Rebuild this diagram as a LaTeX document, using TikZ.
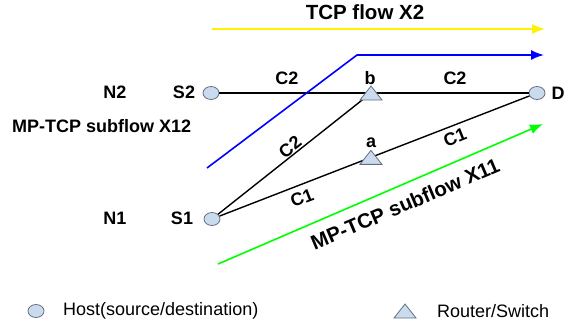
\documentclass[tikz,border=0pt]{standalone}
\usepackage{fontspec}
\setmainfont{Liberation Sans}
\usetikzlibrary{arrows.meta,calc,shapes.geometric}
\definecolor{hostfill}{RGB}{202,219,238}
\definecolor{hostline}{RGB}{100,112,128}
\begin{document}
\begin{tikzpicture}[x=1pt,y=-1pt,
  host/.style={ellipse, draw=hostline, fill=hostfill, line width=0.8pt, minimum width=16pt, minimum height=13pt, inner sep=0pt},
  lbl/.style={font=\fontsize{18}{21}\selectfont\bfseries, inner sep=0pt},
  leg/.style={font=\fontsize{18}{21}\selectfont, inner sep=0pt, anchor=west},
  link/.style={line width=1.4pt, black},
  flow/.style={line width=1.6pt, -{Latex[length=13pt,width=10pt]}},
  router/.pic={\draw[draw=hostline, fill=hostfill, line width=0.8pt] (-11,7) -- (0,-7) -- (11,7) -- cycle;}
]
\useasboundingbox (0,0) rectangle (572,327);
% hosts
\node[host] (S2) at (211,93) {};
\node[host] (D) at (537,93) {};
\node[host] (S1) at (212,219) {};
\coordinate (b) at (371,93);
\coordinate (a) at ($(S1)!0.489!(D)$);
% links
\draw[link] (S2) -- (b) -- (D);
\draw[link] (S1) -- (b);
\draw[link] (S1) -- (a) -- (D);
\pic at (b) {router};
\pic at (a) {router};
% flows
\coordinate (y0) at (212,29);
\coordinate (y1) at (545,29);
\coordinate (bl0) at (207,168);
\coordinate (bl1) at (357,55);
\coordinate (bl2) at (544,55);
\coordinate (g0) at (218,264);
\coordinate (g1) at (543,124);
\draw[flow, yellow] (y0) -- (y1);
\draw[flow, blue] (bl0) -- (bl1) -- (bl2);
\draw[flow, green] (g0) -- (g1);
% labels
\node[lbl, font=\fontsize{20.5}{24}\selectfont\bfseries] (tcp) at (365,12) {TCP flow X2};
\node[lbl] (n2) at (115,92) {N2};
\node[lbl] (s2l) at (184,92) {S2};
\node[lbl] (dl) at (558,93) {D};
\node[lbl] (bl) at (370,78) {b};
\node[lbl] (al) at (371,143) {a};
\node[lbl] (c2a) at (287,78) {C2};
\node[lbl] (c2b) at (455,78) {C2};
\node[lbl, anchor=west] (x12) at (12,126) {MP-TCP subflow X12};
\node[lbl] (n1) at (115,218) {N1};
\node[lbl] (s1l) at (182,218) {S1};
\node[lbl, rotate=38.4] (c2c) at (290,147) {C2};
\node[lbl, rotate=21] (c1a) at (302,198) {C1};
\node[lbl, rotate=22] (c1b) at (455,137) {C1};
\node[lbl, rotate=23, font=\fontsize{20.5}{24}\selectfont\bfseries] (x11) at (405,204) {MP-TCP subflow X11};
% legend
\node[host] (lh) at (36,311) {};
\node[leg] (lht) at (63,311) {Host(source/destination)};
\pic at (405,311) {router};
\node[leg] (lrt) at (437,311) {Router/Switch};
\end{tikzpicture}
\end{document}
